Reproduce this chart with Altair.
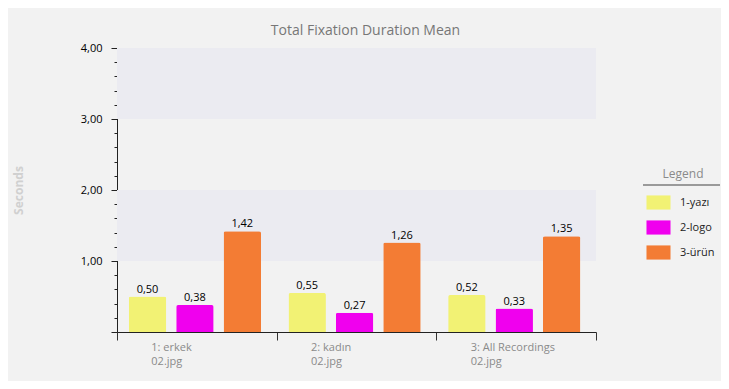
import altair as alt
import pandas as pd

categories = ["1: erkek|02.jpg", "2: kadın|02.jpg", "3: All Recordings|02.jpg"]
series = ["1-yazı", "2-logo", "3-ürün"]
values = {
    "1-yazı": [0.50, 0.55, 0.52],
    "2-logo": [0.38, 0.27, 0.33],
    "3-ürün": [1.42, 1.26, 1.35],
}
colors = ["#f2f274", "#f000ee", "#f37c34"]
band_start = [1, 3]
band_end = [2, 4]
y_ticks = [round(i * 0.2, 1) for i in range(21)]

rows = []
for s in series:
    for c, v in zip(categories, values[s]):
        rows.append({"cat": c, "series": s, "value": v})
df = pd.DataFrame(rows)
bands = pd.DataFrame({"y0": band_start, "y1": band_end})

FONT = "Open Sans"

x_enc = alt.X(
    "cat:N", sort=categories, title=None,
    scale=alt.Scale(paddingInner=0, paddingOuter=0),
    axis=alt.Axis(
        labelExpr="split(datum.label, '|')", labelAngle=0, labelAlign="left",
        labelOffset=-46, labelColor="#8a8a8a", labelFontSize=11, labelFont=FONT,
        labelLineHeight=14, labelPadding=1, tickBand="extent", tickSize=8,
        tickColor="#333333", domainColor="#222222", labelBaseline="top",
    ),
)
xo_enc = alt.XOffset(
    "series:N", sort=series,
    scale=alt.Scale(paddingInner=0.21, paddingOuter=0.29, align=0.43),
)
y_scale = alt.Scale(domain=[0, 4], nice=False)
major = "abs(datum.value - round(datum.value)) < 0.001"
y_axis = alt.Axis(
    values=y_ticks, title="Seconds", titleColor="#d0d0d0", titleFontWeight="bold",
    titleFontSize=12, titleFont=FONT, titlePadding=55,
    labelExpr=f"{major} && datum.value > 0 ? replace(format(datum.value, '.2f'), '.', ',') : ''",
    labelColor="#000000", labelFontSize=11, labelFont=FONT, labelPadding=9,
    tickSize={"condition": {"test": major, "value": 6}, "value": 3},
    tickColor="#222222", domainColor="#222222", grid=False,
)

band_layer = alt.Chart(bands).mark_rect(color="#ebebf1").encode(
    x=alt.value(0), x2=alt.value(479),
    y=alt.Y("y0:Q", scale=y_scale, axis=y_axis), y2="y1:Q",
)

bars = alt.Chart(df).mark_bar(cornerRadiusTopLeft=2, cornerRadiusTopRight=2).encode(
    x=x_enc, xOffset=xo_enc,
    y=alt.Y("value:Q", scale=y_scale, axis=y_axis),
    color=alt.Color(
        "series:N", sort=series, scale=alt.Scale(domain=series, range=colors),
        legend=alt.Legend(
            title="Legend", orient="none", legendX=534, legendY=121,
            titleColor="#8a8a8a", titleFontWeight="normal", titleFontSize=12,
            titleFont=FONT, titleAnchor="middle", titlePadding=14,
            labelFont=FONT, labelFontSize=11, labelColor="#222222",
            symbolType="M-1.7,-1H1.7V1H-1.7Z", symbolSize=200, symbolStrokeWidth=0,
            rowPadding=10, labelOffset=14,
        ),
    ),
)

texts = alt.Chart(df).transform_calculate(
    lbl="replace(format(datum.value, '.2f'), '.', ',')"
).mark_text(baseline="bottom", dy=-2, fontSize=11, font=FONT, color="#000000").encode(
    x=x_enc, xOffset=xo_enc,
    y=alt.Y("value:Q", scale=y_scale, axis=y_axis),
    text="lbl:N",
)

underline = alt.Chart(bands).mark_rule(color="#9a9a9a", strokeWidth=2).encode(
    x=alt.value(526), x2=alt.value(603), y=alt.value(137),
)

chart = alt.layer(band_layer, bars, texts, underline).properties(
    width=479, height=284,
    title=alt.TitleParams(
        "Total Fixation Duration Mean", color="#777777", fontSize=14,
        font=FONT, fontWeight="normal", dx=9, offset=4,
    ),
    autosize=alt.AutoSizeParams(type="none"),
    padding={"left": 109, "top": 40, "right": 125, "bottom": 49},
).configure(background="#f2f2f2").configure_view(stroke=None)

chart.save("out.html", embed_options={"renderer": "svg", "actions": False})
